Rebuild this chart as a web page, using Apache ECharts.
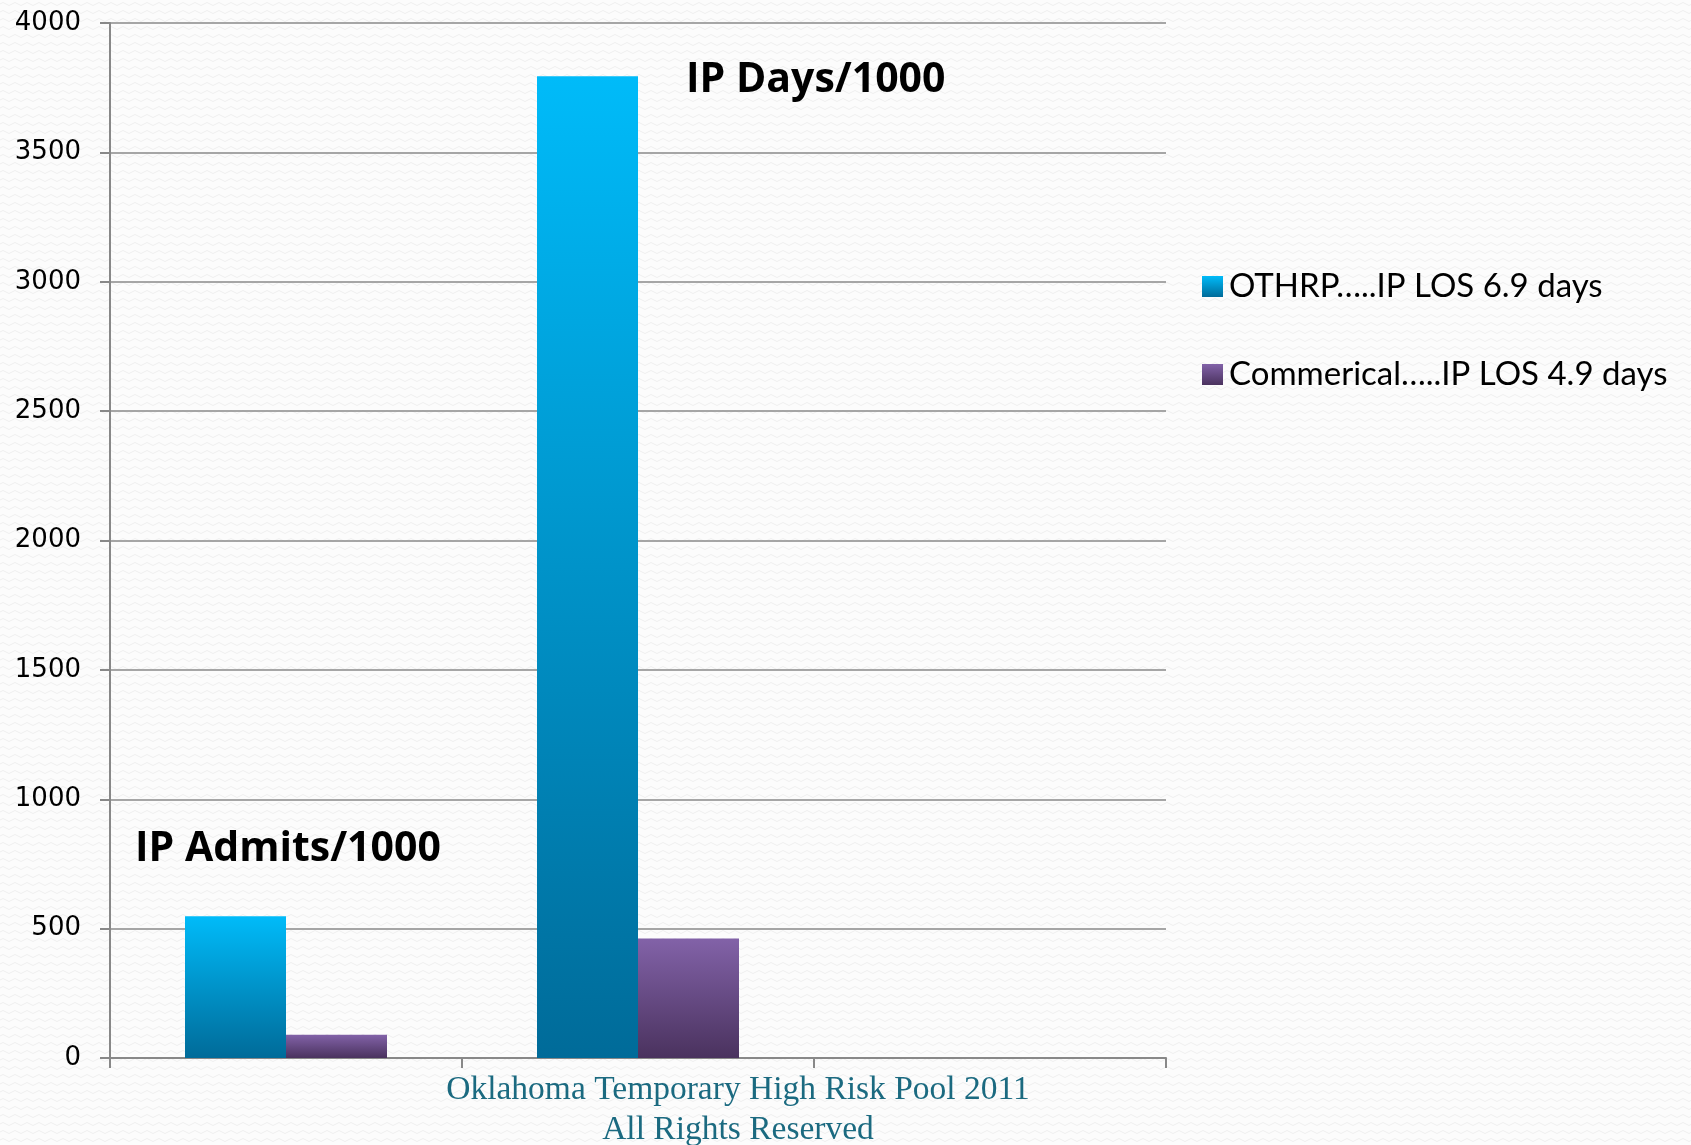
<!DOCTYPE html>
<html>
<head>
<meta charset="utf-8">
<script src="https://cdn.jsdelivr.net/npm/echarts@6/dist/echarts.min.js"></script>
<style>
html,body{margin:0;padding:0;}
body{width:1691px;height:1145px;background-color:#fcfcfc;
background-image:url("data:image/svg+xml;utf8,<svg xmlns='http://www.w3.org/2000/svg' width='12' height='8'><path d='M0 4 Q3 1 6 4 T12 4' fill='none' stroke='%23efefef' stroke-width='1'/></svg>");}
#chart{width:1691px;height:1145px;}
</style>
</head>
<body>
<div id="chart"></div>
<script>
const categories = ['IP Admits/1000', 'IP Days/1000', ''];
const seriesNames = ['OTHRP…..IP LOS 6.9 days', 'Commerical…..IP LOS 4.9 days'];
const othrpValues = [548, 3794, null];
const commercialValues = [90, 462, null];
const yTicks = [0, 500, 1000, 1500, 2000, 2500, 3000, 3500, 4000];
const footerLines = ['Oklahoma Temporary High Risk Pool 2011', 'All Rights Reserved'];

const chart = echarts.init(document.getElementById('chart'), null, {renderer: 'canvas'});
const blueGrad = new echarts.graphic.LinearGradient(0, 0, 0, 1, [
  {offset: 0, color: '#00bbf9'}, {offset: 1, color: '#006b99'}]);
const purpleGrad = new echarts.graphic.LinearGradient(0, 0, 0, 1, [
  {offset: 0, color: '#8262a8'}, {offset: 1, color: '#4a325e'}]);

chart.setOption({
  backgroundColor: 'transparent',
  animation: false,
  grid: {left: 110, right: 525, top: 23, bottom: 87, containLabel: false},
  legend: {
    orient: 'vertical', left: 1197, top: 265,
    itemWidth: 21, itemHeight: 21, itemGap: 55, icon: 'rect',
    textStyle: {fontFamily: 'Lato', fontSize: 33, color: '#000', padding: [0,0,0,1]},
    data: seriesNames
  },
  xAxis: {
    type: 'category', data: categories,
    axisLine: {lineStyle: {color: '#888', width: 2}},
    axisTick: {show: true, length: 10, lineStyle: {color: '#888', width: 2}},
    axisLabel: {show: false}
  },
  yAxis: {
    type: 'value', min: yTicks[0], max: yTicks[yTicks.length - 1], interval: 500,
    axisLine: {show: true, lineStyle: {color: '#888', width: 2}},
    axisTick: {show: true, length: 10, lineStyle: {color: '#888', width: 2}},
    splitLine: {lineStyle: {color: '#8a8a8a', width: 1.5}},
    axisLabel: {margin: 29, fontFamily: 'DejaVu Sans', fontSize: 26, color: '#000',
      formatter: v => String(v)}
  },
  series: [
    {name: seriesNames[0], type: 'bar', data: othrpValues, barWidth: 101, barGap: '0%',
     itemStyle: {color: blueGrad}},
    {name: seriesNames[1], type: 'bar', data: commercialValues, barWidth: 101, barGap: '0%',
     itemStyle: {color: purpleGrad}}
  ],
  graphic: [
    {type: 'text', left: 135, top: 829, style: {text: categories[0], fontFamily: 'Open Sans', fontWeight: 'bold', fontSize: 41, fill: '#000'}},
    {type: 'text', left: 686, top: 60, style: {text: categories[1], fontFamily: 'Open Sans', fontWeight: 'bold', fontSize: 41, fill: '#000'}},
    {type: 'text', x: 738, y: 1090, style: {text: footerLines[0], fontFamily: 'Liberation Serif', fontSize: 33.5, fill: '#1b6a80', align: 'center', verticalAlign: 'middle'}},
    {type: 'text', x: 738, y: 1130, style: {text: footerLines[1], fontFamily: 'Liberation Serif', fontSize: 33.5, fill: '#1b6a80', align: 'center', verticalAlign: 'middle'}}
  ]
});
</script>
</body>
</html>
